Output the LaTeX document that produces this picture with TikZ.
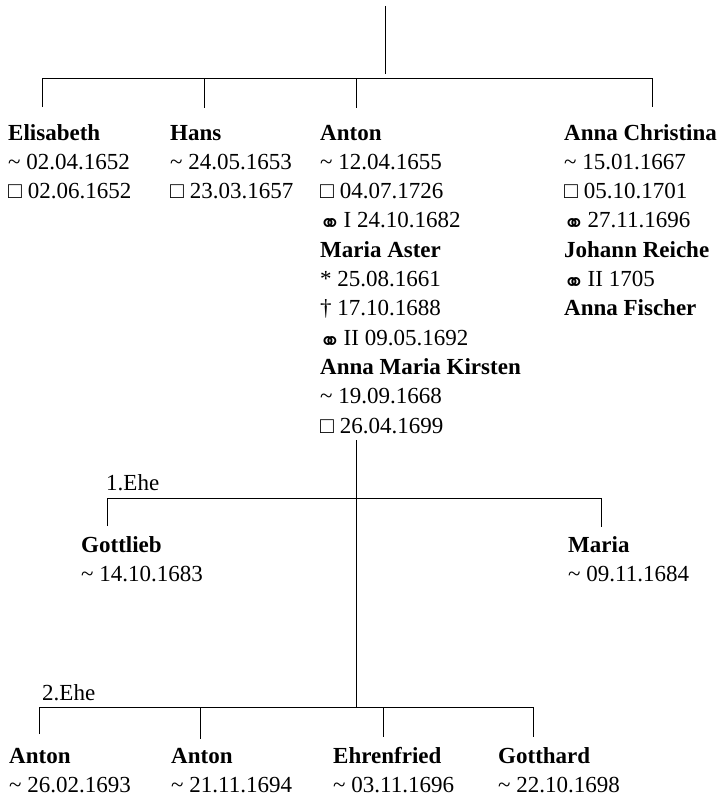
\documentclass[tikz,border=0pt]{standalone}
\usepackage{fontspec}
\setmainfont{Liberation Serif}
\newfontfamily\symfont{DejaVu Sans}
% genealogical signs
\newcommand\baptized{\textasciitilde}
\newcommand\buried{□}
\newcommand\married{\kern-1pt\smash{\raisebox{-5pt}{\symfont\fontsize{26}{26}\selectfont ⚭}}\kern-3pt}
\newcommand\born{{*}}
% a person's entry: one left-aligned column, first baseline on top
\newcommand\entry[1]{\begin{tabular}[t]{@{}l@{}}#1\end{tabular}}

\begin{document}
\begin{tikzpicture}[x=1pt,y=-1pt,
  person/.style={anchor=base west, inner sep=0pt,
    font=\fontsize{23}{29.3}\selectfont},
  note/.style={anchor=base west, inner sep=0pt,
    font=\fontsize{23}{29.3}\selectfont},
  link/.style={line width=1pt, black}]
\useasboundingbox (0,0) rectangle (721,800);

% ---- first generation ----
\node[person] (elisabeth) at (8,140) {\entry{\textbf{Elisabeth}\\
  \baptized\ 02.04.1652\\ \buried\ 02.06.1652}};
\node[person] (hans) at (170,140) {\entry{\textbf{Hans}\\
  \baptized\ 24.05.1653\\ \buried\ 23.03.1657}};
\node[person] (anton) at (320,140) {\entry{\textbf{Anton}\\
  \baptized\ 12.04.1655\\ \buried\ 04.07.1726\\
  \married\ I 24.10.1682\\ \textbf{Maria Aster}\\
  \born\ 25.08.1661\\ † 17.10.1688\\ \married\ II 09.05.1692\\
  \textbf{Anna Maria Kirsten}\\ \baptized\ 19.09.1668\\
  \buried\ 26.04.1699}};
\node[person] (annachr) at (564,140) {\entry{\textbf{Anna Christina}\\
  \baptized\ 15.01.1667\\ \buried\ 05.10.1701\\
  \married\ 27.11.1696\\ \textbf{Johann Reiche}\\
  \married\ II 1705\\ \textbf{Anna Fischer}}};

% ---- children of the first marriage ----
\node[person] (gottlieb) at (81,552) {\entry{\textbf{Gottlieb}\\
  \baptized\ 14.10.1683}};
\node[person] (maria) at (568,552) {\entry{\textbf{Maria}\\
  \baptized\ 09.11.1684}};

% ---- children of the second marriage ----
\node[person] (antonA) at (9,763) {\entry{\textbf{Anton}\\
  \baptized\ 26.02.1693}};
\node[person] (antonB) at (171,763) {\entry{\textbf{Anton}\\
  \baptized\ 21.11.1694}};
\node[person] (ehrenfried) at (333,763) {\entry{\textbf{Ehrenfried}\\
  \baptized\ 03.11.1696}};
\node[person] (gotthard) at (498,763) {\entry{\textbf{Gotthard}\\
  \baptized\ 22.10.1698}};

\node[note] (ehe1) at (106,490) {1.Ehe};
\node[note] (ehe2) at (42,700) {2.Ehe};

% ---- connector points ----
\coordinate (rootT) at (385,6);
\coordinate (rootB) at (385,74);
\coordinate (barL) at (42,78);
\coordinate (barR) at (652,78);
\coordinate (dElis) at (42,107);
\coordinate (tHans) at (204,78);
\coordinate (dHans) at (204,108);
\coordinate (tAnton) at (356,78);
\coordinate (dAnton) at (356,108);
\coordinate (dAnnaC) at (652,107);

\coordinate (stemT) at (356,440);
\coordinate (stemB) at (356,708);

\coordinate (e1L) at (107,498);
\coordinate (e1R) at (601,498);
\coordinate (dGott) at (107,526);
\coordinate (dMaria) at (601,527);

\coordinate (e2L) at (39,707);
\coordinate (e2R) at (533,707);
\coordinate (dAntA) at (39,734);
\coordinate (tAntB) at (200,708);
\coordinate (dAntB) at (200,739);
\coordinate (tEhr) at (383,707);
\coordinate (dEhr) at (383,737);
\coordinate (dGotth) at (533,737);

% ---- lines ----
\draw[link] (rootT) -- (rootB);
\draw[link] (dElis) -- (barL) -- (barR) -- (dAnnaC);
\draw[link] (tHans) -- (dHans);
\draw[link] (tAnton) -- (dAnton);

\draw[link] (stemT) -- (stemB);
\draw[link] (dGott) -- (e1L) -- (e1R) -- (dMaria);
\draw[link] (dAntA) -- (e2L) -- (e2R) -- (dGotth);
\draw[link] (tAntB) -- (dAntB);
\draw[link] (tEhr) -- (dEhr);
\end{tikzpicture}
\end{document}
